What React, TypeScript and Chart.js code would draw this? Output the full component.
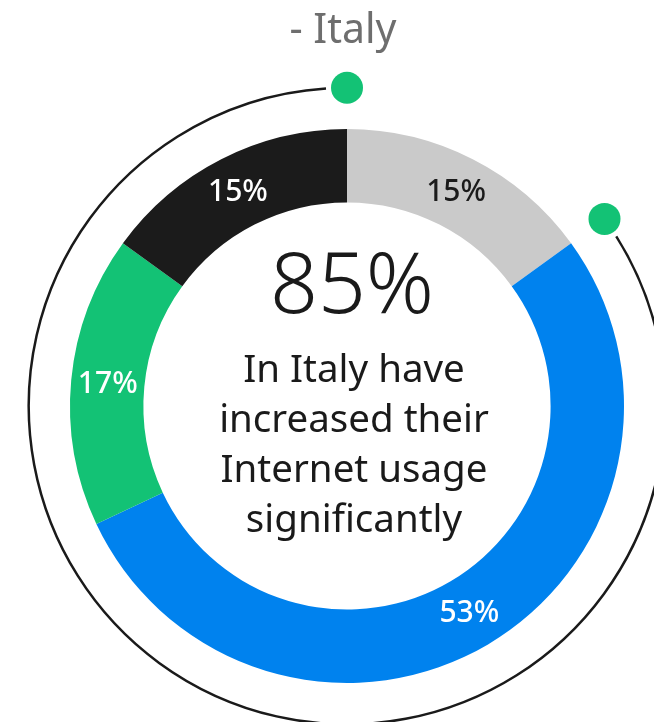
import React, { useEffect, useRef } from "react";
import { Chart, registerables } from "chart.js";

Chart.register(...registerables);

const titleText = "- Italy";
const categories = ["Not increased", "Increased a lot", "Increased somewhat", "Increased a little"];
const values = [15, 53, 17, 15];
const valueLabels = ["15%", "53%", "17%", "15%"];
const segmentColors = ["#cacaca", "#0082ee", "#13c275", "#1b1b1b"];
const labelColors = ["#1b1b1b", "#ffffff", "#ffffff", "#ffffff"];
const headline = "85%";
const centerLines = ["In Italy have", "increased their", "Internet usage", "significantly"];

const FONT = '"Noto Sans", "Open Sans", sans-serif';

const overlayPlugin = {
  id: "overlay",
  afterDatasetsDraw(chart: any) {
    const ctx = chart.ctx;
    const meta = chart.getDatasetMeta(0);
    const arcs = meta.data as any[];
    if (!arcs.length) return;
    const cx = arcs[0].x;
    const cy = arcs[0].y;
    const outer = arcs[0].outerRadius;

    // segment labels
    ctx.save();
    ctx.textAlign = "center";
    ctx.textBaseline = "middle";
    ctx.font = `500 30px ${FONT}`;
    arcs.forEach((a, i) => {
      const p = a.tooltipPosition();
      ctx.fillStyle = labelColors[i];
      ctx.fillText(valueLabels[i], p.x, p.y + 1);
    });
    ctx.restore();

    // outer progress arc covering the "increased" share (all but first segment)
    const r = outer * 1.149;
    const startAngle = arcs[0].endAngle;
    const endAngle = arcs[arcs.length - 1].endAngle;
    const dotR = 16;
    const gap = (dotR + 5) / r;
    ctx.save();
    ctx.strokeStyle = "#1a1a1a";
    ctx.lineWidth = 2.5;
    ctx.beginPath();
    ctx.arc(cx, cy, r, startAngle + gap, endAngle - gap);
    ctx.stroke();
    ctx.fillStyle = "#13c275";
    [startAngle, endAngle].forEach((ang) => {
      ctx.beginPath();
      ctx.arc(cx + r * Math.cos(ang), cy + r * Math.sin(ang), dotR, 0, Math.PI * 2);
      ctx.fill();
    });
    ctx.restore();

    // center text
    ctx.save();
    ctx.textAlign = "center";
    ctx.textBaseline = "alphabetic";
    ctx.fillStyle = "#1a1a1a";
    ctx.font = `300 84px ${FONT}`;
    ctx.fillText(headline, cx + 5, cy - 93);
    ctx.font = `400 38.5px ${FONT}`;
    centerLines.forEach((line, i) => {
      ctx.fillText(line, cx + 7, cy - 24 + i * 50);
    });
    ctx.restore();

    // title
    ctx.save();
    ctx.textAlign = "center";
    ctx.textBaseline = "alphabetic";
    ctx.fillStyle = "#6e6e6e";
    ctx.font = `400 41px ${FONT}`;
    ctx.fillText(titleText, cx - 4, 43);
    ctx.restore();
  },
};

export default function App() {
  const ref = useRef<HTMLCanvasElement>(null);
  useEffect(() => {
    if (!ref.current) return;
    const chart = new Chart(ref.current, {
      type: "doughnut",
      data: {
        labels: categories,
        datasets: [
          {
            data: values,
            backgroundColor: segmentColors,
            borderWidth: 0,
          },
        ],
      },
      options: {
        responsive: false,
        animation: false,
        radius: 277,
        cutout: "73.5%",
        layout: { padding: { left: 40, right: 0, top: 90, bottom: 0 } },
        plugins: {
          legend: { display: false },
          tooltip: { enabled: false },
          title: { display: false },
        },
      },
      plugins: [overlayPlugin],
    });
    return () => chart.destroy();
  }, []);
  return (
    <div style={{ position: "fixed", left: 0, top: 0, width: 654, height: 722, background: "#fff" }}>
      <canvas ref={ref} width={654} height={722} style={{ width: 654, height: 722, display: "block" }} />
    </div>
  );
}
